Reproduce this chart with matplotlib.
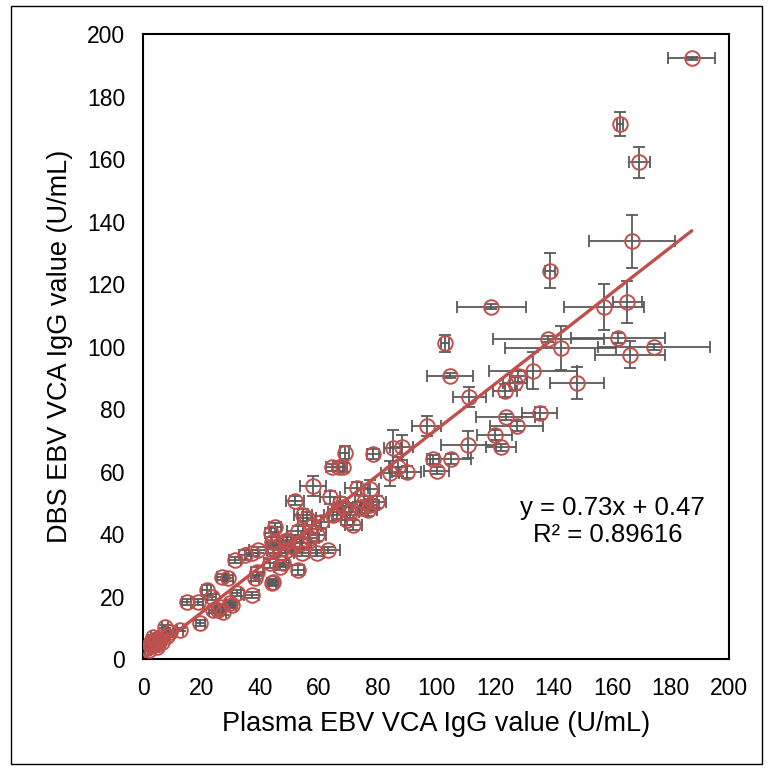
import matplotlib
matplotlib.use("Agg")
import matplotlib.pyplot as plt
from matplotlib.patches import Rectangle
import numpy as np

# Plasma (x) vs DBS (y) EBV VCA IgG values with SDs
plasma = [187.2, 162.7, 169.2, 166.7, 138.8, 157.3, 165.2, 118.7, 162.1, 138.2,
          142.5, 174.3, 166.1, 147.9, 103.0, 104.7, 111.3, 123.4, 126.9, 128.0,
          132.9, 135.3, 123.7, 127.4, 120.0, 122.1, 110.9, 104.9, 98.8, 100.1,
          96.7, 88.2, 85.1, 78.5, 68.8, 68.1, 89.9, 84.2, 87.0, 77.4,
          72.8, 79.7, 74.5, 76.8, 70.5, 68.3, 71.7, 69.4, 67.1, 64.3,
          58.0, 51.8, 63.7, 75.4, 54.6, 55.8, 64.8, 44.9, 52.9, 59.2,
          48.9, 54.1, 51.2, 63.1, 59.2, 44.4, 54.1, 52.9, 43.5, 45.5,
          31.3, 34.7, 37.0, 39.2, 26.8, 29.0, 43.2, 38.7, 43.8, 37.0,
          21.6, 14.8, 18.8, 23.3, 26.2, 30.2, 19.4, 23.9, 12.5, 46.7,
          48.9, 44.4, 38.1, 46.7, 25.6, 27.3, 29.6, 31.9, 7.4, 9.1,
          5.7, 2.3, 1.2, 4.0, 4.6, 3.4, 47.8, 56.9, 53.5, 48.9,
          43.8, 66.9, 77.4, 74.0, 2.0, 3.0, 5.0, 6.0, 6.5, 8.0,
          3.5, 4.5, 2.5, 60.5, 57.5, 66.0]
dbs = [192.3, 171.3, 159.0, 133.8, 124.4, 112.8, 114.3, 112.8, 102.8, 102.4,
       99.7, 100.0, 97.5, 88.3, 101.1, 90.8, 84.0, 86.0, 88.3, 90.7,
       92.3, 78.8, 77.6, 74.7, 71.8, 67.8, 68.6, 64.1, 64.0, 60.4,
       74.7, 67.8, 67.5, 65.7, 66.1, 61.4, 60.0, 59.5, 61.6, 54.4,
       54.7, 50.4, 48.8, 47.8, 47.2, 48.8, 43.0, 44.6, 50.0, 61.4,
       55.5, 50.8, 51.8, 50.4, 46.2, 45.1, 46.2, 42.2, 41.2, 39.8,
       38.2, 37.1, 36.0, 35.0, 33.9, 35.5, 33.9, 28.6, 40.5, 37.6,
       31.8, 33.4, 33.9, 35.0, 26.4, 25.9, 30.7, 28.0, 24.3, 20.6,
       22.2, 18.4, 18.4, 20.0, 16.8, 17.4, 11.5, 15.8, 9.4, 33.9,
       35.0, 24.8, 25.9, 29.6, 15.8, 15.2, 17.9, 21.1, 10.4, 8.8,
       6.2, 4.6, 3.5, 5.6, 4.0, 7.2, 30.7, 38.7, 37.1, 37.6,
       37.6, 61.6, 49.4, 48.3, 3.0, 4.5, 5.0, 7.0, 5.5, 7.5,
       6.0, 6.5, 5.5, 44.0, 42.5, 47.0]
plasma_sd = [8.0, 1.0, 3.6, 14.6, 1.7, 13.7, 5.0, 11.8, 16.0, 19.0,
             19.0, 19.0, 12.0, 9.2, 1.5, 7.8, 5.7, 4.0, 4.0, 3.0,
             15.0, 6.0, 10.0, 9.0, 6.0, 5.1, 9.4, 7.0, 2.0, 4.3,
             4.9, 4.0, 3.0, 2.0, 1.5, 1.5, 5.0, 3.0, 3.0, 3.0,
             4.0, 3.0, 3.0, 3.0, 3.0, 2.0, 3.0, 2.0, 2.0, 2.0,
             4.5, 3.0, 3.5, 3.0, 3.0, 3.0, 3.0, 2.0, 4.0, 3.0,
             3.0, 3.0, 3.0, 4.0, 2.5, 2.0, 2.5, 2.0, 2.0, 2.0,
             2.0, 2.0, 2.0, 3.0, 1.5, 1.5, 2.0, 2.0, 1.5, 2.5,
             1.5, 1.5, 1.5, 1.5, 1.5, 1.5, 1.5, 1.5, 1.0, 2.0,
             2.0, 1.5, 1.5, 2.0, 1.0, 1.0, 1.5, 1.5, 1.0, 1.0,
             0.8, 0.5, 0.5, 0.8, 0.8, 0.8, 2.0, 3.0, 3.0, 2.0,
             2.0, 2.0, 3.0, 3.0, 0.5, 0.5, 0.8, 0.8, 0.8, 1.0,
             0.5, 0.8, 0.5, 3.0, 3.0, 3.0]
dbs_sd = [0.5, 3.9, 5.0, 8.5, 5.6, 7.4, 6.6, 0.8, 1.7, 1.0,
          7.0, 1.0, 4.3, 5.1, 2.8, 0.8, 3.2, 2.0, 2.0, 2.0,
          5.9, 2.0, 1.0, 1.5, 1.5, 1.0, 4.3, 1.5, 1.5, 1.0,
          3.3, 4.0, 6.0, 1.5, 2.0, 1.5, 2.0, 4.0, 3.0, 3.0,
          2.0, 2.0, 2.0, 2.0, 2.0, 2.0, 1.5, 1.5, 2.0, 1.0,
          3.1, 1.5, 2.0, 2.0, 2.0, 2.0, 2.0, 1.5, 1.5, 2.0,
          1.5, 1.5, 1.5, 1.0, 1.0, 1.5, 1.0, 1.5, 1.5, 1.5,
          1.0, 1.5, 1.0, 1.0, 1.0, 1.0, 1.5, 1.5, 1.0, 1.0,
          1.5, 1.0, 1.0, 1.0, 1.0, 1.0, 1.0, 1.0, 0.5, 1.0,
          1.0, 1.0, 1.0, 1.0, 1.0, 1.0, 1.0, 1.0, 0.5, 0.5,
          0.5, 0.5, 0.5, 0.5, 0.5, 0.5, 1.0, 1.5, 1.5, 1.5,
          1.5, 1.5, 2.0, 2.0, 0.5, 0.5, 0.5, 0.5, 0.5, 0.5,
          0.5, 0.5, 0.5, 2.0, 2.0, 2.0]

slope = 0.73
intercept = 0.47
equation_text = "y = 0.73x + 0.47"
r2_text = "R\u00b2 = 0.89616"
x_ticks = [0, 20, 40, 60, 80, 100, 120, 140, 160, 180, 200]
y_ticks = [0, 20, 40, 60, 80, 100, 120, 140, 160, 180, 200]

plt.rcParams['font.family'] = ['Liberation Sans', 'DejaVu Sans']

fig = plt.figure(figsize=(7.7, 7.69), dpi=100)
ax = fig.add_axes([143.3 / 770, 1 - 659.3 / 769, (729.3 - 143.3) / 770, (659.3 - 34.3) / 769])

red = '#C0504D'
gray = '#595959'

ax.errorbar(plasma, dbs, xerr=plasma_sd, yerr=dbs_sd, fmt='none', ecolor=gray,
            elinewidth=1.3, capsize=4, capthick=1.3, zorder=2)
ax.plot(plasma, dbs, 'o', mfc='none', mec=red, ms=10.5, mew=1.4, zorder=3)

xl = np.array([min(plasma) - 0.6, max(plasma)])
ax.plot(xl, slope * xl + intercept, color=red, lw=2.4, zorder=4, solid_capstyle='round')

ax.set_xlim(0, 200)
ax.set_ylim(0, 200)
ax.set_xticks(x_ticks)
ax.set_yticks(y_ticks)
ax.tick_params(length=0, labelsize=16.5, pad=13)
for s in ax.spines.values():
    s.set_linewidth(1.5)
    s.set_color('black')

ax.set_xlabel("Plasma EBV VCA IgG value (U/mL)", fontsize=19.5, labelpad=8)
ax.set_ylabel("DBS EBV VCA IgG value (U/mL)", fontsize=19.5, labelpad=10)

ax.text(160, 48.4, equation_text, fontsize=18.5, ha='center', va='center')
ax.text(158.5, 39.8, r2_text, fontsize=18.5, ha='center', va='center')

fig.patches.append(Rectangle((10.5 / 770, 1 - 764 / 769), (762 - 10.5) / 770, (764 - 5.5) / 769,
                             transform=fig.transFigure, fill=False, ec='black', lw=1.0))

fig.savefig("out.png", dpi=100)
